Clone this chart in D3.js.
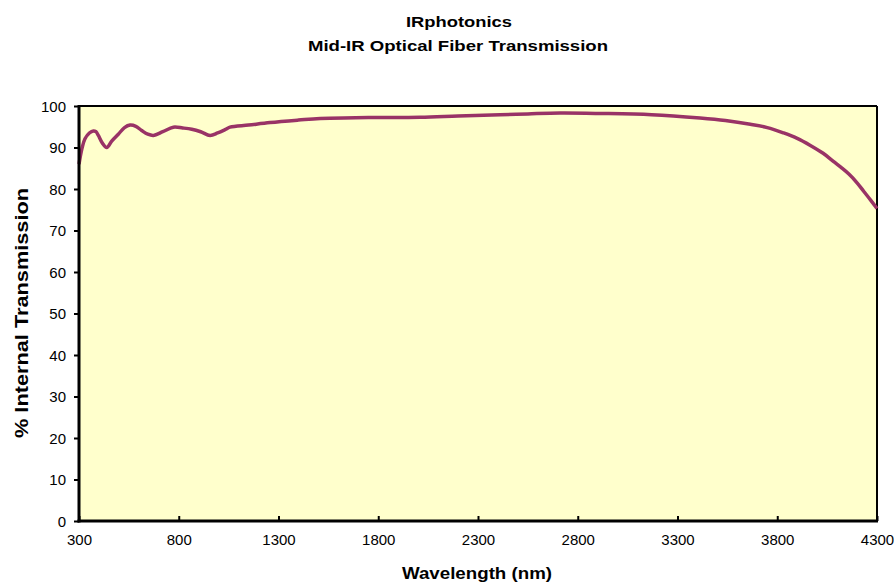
<html>
<script src="https://d3js.org/d3.v7.min.js"></script>
<body style="margin:0;background:#fff">
<svg width=894 height=582></svg>
</body>
<script>

// wavelength (nm) and % internal transmission
var wavelength = [300, 315, 330, 352, 372, 385, 397, 418, 439, 465, 497, 528, 556, 585, 614, 645, 673, 720, 773, 820, 865, 910, 957, 995, 1032, 1057, 1150, 1258, 1400, 1509, 1750, 2010, 2200, 2411, 2550, 2712, 2911, 3170, 3413, 3540, 3665, 3750, 3832, 3900, 3966, 4030, 4083, 4120, 4159, 4200, 4234, 4270, 4300];
var transmission = [86.0, 89.8, 92.1, 93.5, 94.0, 93.8, 92.9, 91.0, 90.0, 91.6, 93.2, 94.8, 95.4, 95.1, 94.1, 93.2, 92.9, 93.8, 94.9, 94.7, 94.4, 93.8, 92.9, 93.5, 94.3, 94.9, 95.4, 96.0, 96.6, 97.0, 97.2, 97.3, 97.6, 97.9, 98.1, 98.3, 98.2, 97.9, 97.1, 96.5, 95.6, 94.8, 93.5, 92.2, 90.5, 88.6, 86.6, 85.2, 83.6, 81.5, 79.4, 77.2, 75.3];

var xTicks = [300, 800, 1300, 1800, 2300, 2800, 3300, 3800, 4300];
var yTicks = [0, 10, 20, 30, 40, 50, 60, 70, 80, 90, 100];

var pLeft = 79, pRight = 877, pTop = 106, pBottom = 521;
var svg = d3.select("svg");
var font = "Liberation Sans, Arial, sans-serif";

var x = d3.scaleLinear().domain([300, 4300]).range([pLeft, pRight]);
var y = d3.scaleLinear().domain([0, 100]).range([pBottom, pTop]);

svg.append("rect").attr("x", pLeft).attr("y", pTop)
  .attr("width", pRight-pLeft).attr("height", pBottom-pTop)
  .attr("fill", "#ffffcc");

// x axis, ticks pointing into the plot
var xa = svg.append("g").attr("transform", "translate(0," + pBottom + ")")
  .call(d3.axisBottom(x).tickValues(xTicks).tickFormat(d3.format("d"))
    .tickSizeInner(-5).tickSizeOuter(0).tickPadding(13));
// y axis, ticks pointing out
var ya = svg.append("g").attr("transform", "translate(" + pLeft + ",0)")
  .call(d3.axisLeft(y).tickValues(yTicks).tickSize(5).tickSizeOuter(0).tickPadding(8));

[xa, ya].forEach(function(a) {
  a.select(".domain").remove();
  a.selectAll("line").attr("stroke", "#000").attr("stroke-width", 2);
  a.selectAll("text").attr("font-family", font).attr("font-size", 15).attr("fill", "#000");
});
xa.selectAll("text").attr("dy", "0.71em");
ya.selectAll("text").attr("dy", "0.36em");

// frame
svg.append("line").attr("x1", pLeft).attr("x2", pRight).attr("y1", pTop).attr("y2", pTop)
  .attr("stroke", "#000").attr("stroke-width", 1.8);
svg.append("line").attr("x1", pRight).attr("x2", pRight).attr("y1", pTop).attr("y2", pBottom)
  .attr("stroke", "#000").attr("stroke-width", 2);

var line = d3.line()
  .x(function(d, i) { return x(wavelength[i]); })
  .y(function(d) { return y(d); })
  .curve(d3.curveCatmullRom);

svg.append("path").datum(transmission)
  .attr("d", line)
  .attr("fill", "none")
  .attr("stroke", "#993366")
  .attr("stroke-width", 3.5)
  .attr("stroke-linejoin", "round");

svg.append("line").attr("x1", pLeft).attr("x2", pLeft).attr("y1", pTop-1).attr("y2", pBottom+1.5)
  .attr("stroke", "#000").attr("stroke-width", 3);
svg.append("line").attr("x1", pLeft-1.5).attr("x2", pRight+1).attr("y1", pBottom).attr("y2", pBottom)
  .attr("stroke", "#000").attr("stroke-width", 3);

// titles (the original bold face runs wider, so stretch to its length)
function label(sel, txt, size, len) {
  return sel.append("text").attr("text-anchor", "middle")
    .attr("font-family", font).attr("font-weight", "bold").attr("font-size", size)
    .attr("textLength", len).attr("lengthAdjust", "spacingAndGlyphs")
    .text(txt);
}
label(svg, "IRphotonics", 15, 106).attr("x", 459).attr("y", 27);
label(svg, "Mid-IR Optical Fiber Transmission", 15, 300).attr("x", 458).attr("y", 51);
label(svg, "Wavelength (nm)", 16, 150).attr("x", 477).attr("y", 579);
label(svg, "% Internal Transmission", 18, 250).attr("transform", "translate(28,313) rotate(-90)");

</script>
</html>
